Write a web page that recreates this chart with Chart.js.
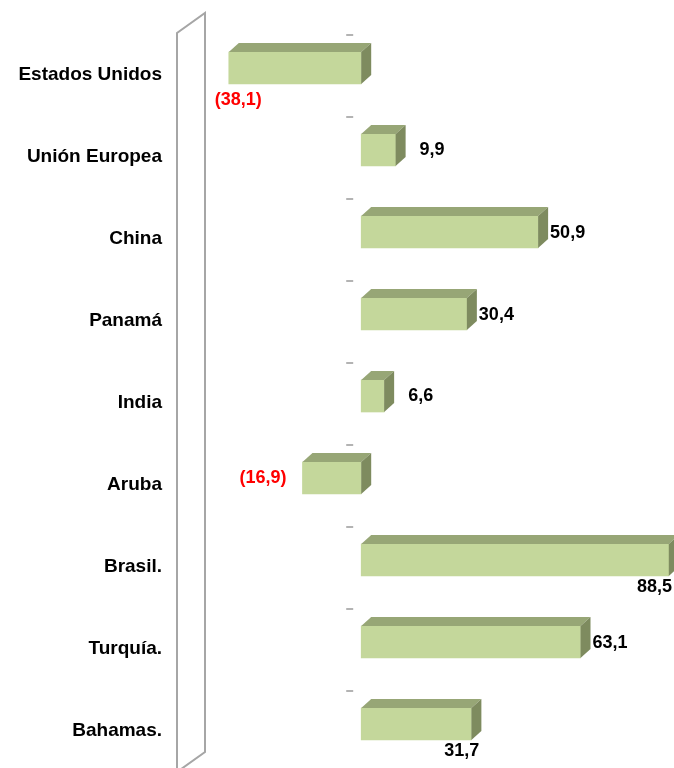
<!DOCTYPE html>
<html>
<head>
<meta charset="utf-8">
<script src="https://cdn.jsdelivr.net/npm/chart.js@4.4.0/dist/chart.umd.min.js"></script>
<style>
  body { margin: 0; background: #fff; }
  canvas { display: block; }
</style>
</head>
<body>
<canvas id="grafico" width="674" height="768"></canvas>
<script>
// Datos del gráfico
const categorias = ['Estados Unidos', 'Unión Europea', 'China', 'Panamá', 'India', 'Aruba', 'Brasil.', 'Turquía.', 'Bahamas.'];
const valores = [-38.1, 9.9, 50.9, 30.4, 6.6, -16.9, 88.5, 63.1, 31.7];
const ejeMin = -53;
const ejeMax = 90;

// dónde va cada etiqueta respecto a su barra
const posEtiquetas = ['abajoIzq', 'derechaLejos', 'derecha', 'derecha', 'derechaLejos', 'izquierda', 'abajoDer', 'derecha', 'abajoDer'];

const fuente = "bold 18px 'Liberation Sans', Arial, sans-serif";
const prof = { dx: 10, dy: 9 }; // profundidad 3D de las barras

function formato(v) {
  const txt = Math.abs(v).toFixed(1).replace('.', ',');
  return v < 0 ? '(' + txt + ')' : txt;
}

// Pared izquierda, caras 3D, marcas y etiquetas
const efecto3D = {
  id: 'efecto3D',
  beforeDatasetsDraw(chart) {
    const { ctx, chartArea } = chart;
    const x0 = chartArea.left;
    ctx.save();
    ctx.strokeStyle = '#a6a6a6';
    ctx.lineWidth = 2;
    ctx.beginPath();
    ctx.moveTo(x0, chartArea.bottom + 7);
    ctx.lineTo(x0, chartArea.top + 6);
    ctx.lineTo(x0 + 28, chartArea.top - 14);
    ctx.lineTo(x0 + 28, chartArea.bottom - 13);
    ctx.lineTo(x0, chartArea.bottom + 7);
    ctx.stroke();

    // marcas pequeñas entre categorías
    const cero = chart.scales.x.getPixelForValue(0);
    const yEje = chart.scales.y;
    ctx.strokeStyle = '#9a9a9a';
    ctx.lineWidth = 1.5;
    categorias.forEach((c, i) => {
      const y = Math.round(yEje.getPixelForValue(i) - 33);
      ctx.beginPath();
      ctx.moveTo(cero - 15, y);
      ctx.lineTo(cero - 8, y);
      ctx.stroke();
    });
    ctx.restore();
  },
  afterDatasetsDraw(chart) {
    const { ctx } = chart;
    const meta = chart.getDatasetMeta(0);
    ctx.save();
    meta.data.forEach((bar, i) => {
      const izq = Math.min(bar.x, bar.base);
      const der = Math.max(bar.x, bar.base);
      const arriba = bar.y - bar.height / 2;
      const abajo = bar.y + bar.height / 2;

      // cara superior
      ctx.fillStyle = '#97a676';
      ctx.beginPath();
      ctx.moveTo(izq, arriba);
      ctx.lineTo(izq + prof.dx, arriba - prof.dy);
      ctx.lineTo(der + prof.dx, arriba - prof.dy);
      ctx.lineTo(der, arriba);
      ctx.closePath();
      ctx.fill();

      // cara lateral
      ctx.fillStyle = '#7e8b5f';
      ctx.beginPath();
      ctx.moveTo(der, arriba);
      ctx.lineTo(der + prof.dx, arriba - prof.dy);
      ctx.lineTo(der + prof.dx, abajo - prof.dy);
      ctx.lineTo(der, abajo);
      ctx.closePath();
      ctx.fill();

      // etiqueta
      const v = valores[i];
      ctx.font = fuente;
      ctx.fillStyle = v < 0 ? '#ff0000' : '#000000';
      ctx.textBaseline = 'middle';
      let x, y;
      switch (posEtiquetas[i]) {
        case 'abajoIzq':
          ctx.textAlign = 'left'; x = izq - 14; y = abajo + 16; break;
        case 'izquierda':
          ctx.textAlign = 'right'; x = izq - 16; y = bar.y; break;
        case 'derechaLejos':
          ctx.textAlign = 'left'; x = der + 24; y = bar.y; break;
        case 'abajoDer':
          ctx.textAlign = 'right'; x = Math.min(der + 8, chart.width - 2); y = abajo + 11; break;
        default:
          ctx.textAlign = 'left'; x = der + 12; y = bar.y + 1;
      }
      ctx.fillText(formato(v), x, y);
    });
    ctx.restore();
  }
};

const ctx = document.getElementById('grafico').getContext('2d');

const grafico = new Chart(ctx, {
  type: 'bar',
  data: {
    labels: categorias,
    datasets: [{
      data: valores,
      backgroundColor: '#c4d79b',
      borderWidth: 0,
      barThickness: 32
    }]
  },
  options: {
    indexAxis: 'y',
    responsive: false,
    animation: false,
    layout: { padding: { top: 27, bottom: 3, left: 0, right: 0 } },
    scales: {
      x: {
        display: false,
        min: ejeMin,
        max: ejeMax
      },
      y: {
        grid: { display: false, drawTicks: false },
        border: { display: false },
        afterFit: (scale) => {
          scale.width = 177;
          scale.paddingTop = 0;
          scale.paddingBottom = 0;
        },
        ticks: {
          color: '#000',
          padding: 15,
          labelOffset: 7,
          font: { family: "'Liberation Sans', Arial, sans-serif", size: 19, weight: 'bold' }
        }
      }
    },
    plugins: {
      legend: { display: false },
      tooltip: { enabled: false }
    }
  },
  plugins: [efecto3D]
});
</script>
</body>
</html>
